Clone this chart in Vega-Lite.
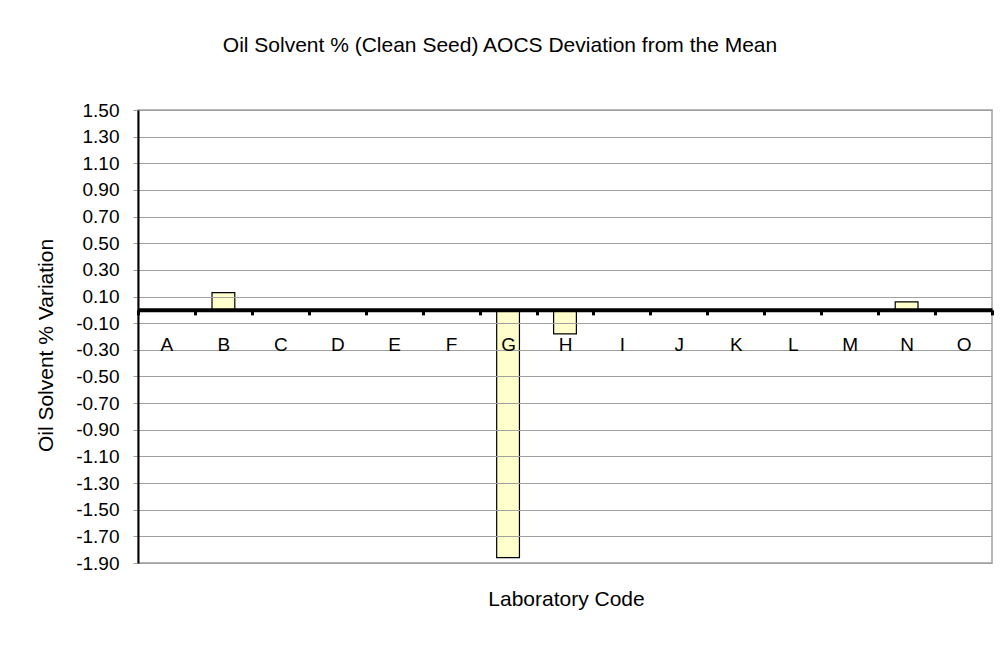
{
  "$schema": "https://vega.github.io/schema/vega-lite/v6.json",
  "autosize": "none",
  "width": 854,
  "height": 453,
  "padding": {"left": 138, "top": 110, "right": 10, "bottom": 82},
  "background": "white",
  "title": {
    "text": "Oil Solvent % (Clean Seed) AOCS Deviation from the Mean",
    "font": "Liberation Sans",
    "fontSize": 21,
    "fontWeight": "normal",
    "color": "black",
    "anchor": "middle",
    "baseline": "alphabetic",
    "offset": 28,
    "dx": -65
  },
  "data": {
    "values": [
      {"lab": "A", "value": 0},
      {"lab": "B", "value": 0.13},
      {"lab": "C", "value": 0},
      {"lab": "D", "value": 0},
      {"lab": "E", "value": 0},
      {"lab": "F", "value": 0},
      {"lab": "G", "value": -1.86},
      {"lab": "H", "value": -0.18},
      {"lab": "I", "value": 0},
      {"lab": "J", "value": 0},
      {"lab": "K", "value": 0},
      {"lab": "L", "value": 0},
      {"lab": "M", "value": 0},
      {"lab": "N", "value": 0.06},
      {"lab": "O", "value": 0}
    ]
  },
  "mark": {"type": "bar", "fill": "#FFFFCC", "stroke": "black", "strokeWidth": 1.2, "width": {"band": 0.4}},
  "encoding": {
    "x": {
      "field": "lab",
      "type": "nominal",
      "sort": null,
      "scale": {"paddingInner": 0, "paddingOuter": 0},
      "axis": {
        "title": "Laboratory Code",
        "titleFont": "Liberation Sans",
        "titleFontSize": 21,
        "titleFontWeight": "normal",
        "titleColor": "black",
        "titleBaseline": "alphabetic",
        "titleY": 296,
        "titleX": 428,
        "offset": -253.15,
        "domainColor": "black",
        "domainWidth": 4,
        "tickBand": "extent",
        "tickColor": "black",
        "tickWidth": 3,
        "tickSize": 5,
        "labelAngle": 0,
        "labelFont": "Liberation Sans",
        "labelFontSize": 19,
        "labelColor": "black",
        "labelBaseline": "alphabetic",
        "labelPadding": 36,
        "grid": false,
        "zindex": 1
      }
    },
    "y": {
      "field": "value",
      "type": "quantitative",
      "scale": {"domain": [-1.9, 1.5], "nice": false, "zero": false},
      "axis": {
        "title": "Oil Solvent % Variation",
        "titleFont": "Liberation Sans",
        "titleFontSize": 21,
        "titleFontWeight": "normal",
        "titleColor": "black",
        "titleAngle": -90,
        "titleAlign": "center",
        "titleBaseline": "middle",
        "titleX": -92,
        "titleY": 235,
        "values": [1.5, 1.3, 1.1, 0.9, 0.7, 0.5, 0.3, 0.1, -0.1, -0.3, -0.5, -0.7, -0.9, -1.1, -1.3, -1.5, -1.7, -1.9],
        "labelExpr": "replace(format(datum.value, '.2f'), '\u2212', '-')",
        "labelFont": "Liberation Sans",
        "labelFontSize": 19,
        "labelColor": "black",
        "labelPadding": 14,
        "tickColor": "#a0a0a0",
        "tickSize": 5,
        "domainColor": "black",
        "domainWidth": 2,
        "grid": true,
        "gridColor": "#a0a0a0",
        "gridWidth": 1,
        "zindex": 1
      }
    },
    "y2": {"datum": 0}
  },
  "config": {
    "view": {"stroke": "#a0a0a0", "strokeWidth": 1.5}
  }
}
